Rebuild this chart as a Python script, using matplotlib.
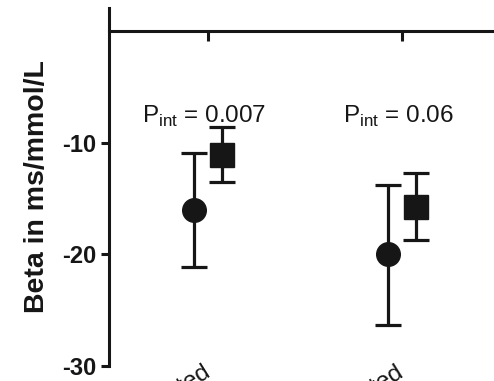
import matplotlib
matplotlib.use("Agg")
import matplotlib.pyplot as plt
import numpy as np

plt.rcParams['font.family'] = ['Liberation Sans', 'DejaVu Sans']
plt.rcParams['mathtext.fontset'] = 'custom'
plt.rcParams['mathtext.rm'] = 'Liberation Sans'

categories = ["Unadjusted", "Adjusted"]
circle_vals = [-16.0, -20.0]
circle_upper = [-10.9, -13.8]
circle_lower = [-21.1, -26.3]
square_vals = [-11.1, -15.7]
square_upper = [-8.6, -12.7]
square_lower = [-13.5, -18.7]
p_labels = [r"P$_{\mathregular{int}}$ = 0.007", r"P$_{\mathregular{int}}$ = 0.06"]
y_ticks = [-30, -20, -10]

col = '#161616'
fig = plt.figure(figsize=(4.94, 3.81), dpi=100)
ax = fig.add_axes([109/494, 15/381, 1 - 109/494, 358/381])

x = np.arange(1, len(categories) + 1)
off = 0.07

def draw(xs, vals, up, lo, marker):
    vals = np.array(vals); up = np.array(up); lo = np.array(lo)
    ax.errorbar(xs, vals, yerr=[vals - lo, up - vals], fmt=marker, color=col,
                ms=17, mec=col, mfc=col, ecolor=col, elinewidth=2.3,
                capsize=9.7, capthick=2.3, zorder=3, clip_on=False)

draw(x - off, circle_vals, circle_upper, circle_lower, 'o')
draw(x + off, square_vals, square_upper, square_lower, 's')

for xi, lab in zip(x, p_labels):
    ax.text(xi - 0.02, -8.2, lab, ha='center', va='baseline', fontsize=17.5, color=col)

ax.set_xlim(0.49, 2.474)
ax.set_ylim(-30, 2.1)
ax.set_yticks(y_ticks)
ax.set_yticklabels([str(t) for t in y_ticks], fontsize=17, fontweight='bold', color=col)
ax.set_ylabel("Beta in ms/mmol/L", fontsize=20.5, fontweight='bold', color=col, labelpad=9)

ax.spines['right'].set_visible(False)
ax.spines['bottom'].set_visible(False)
ax.spines['top'].set_position(('data', 0))
for s in ['left', 'top']:
    ax.spines[s].set_linewidth(2.2)
    ax.spines[s].set_color(col)

ax.set_xticks(x)
ax.set_xticklabels(categories, fontsize=17.5, rotation=32, ha='right',
                   rotation_mode='anchor', va='center', color=col)
ax.tick_params(axis='x', bottom=False, top=True, labelbottom=True, labeltop=False,
               direction='in', length=7.5, width=2.2, color=col, pad=3)
ax.tick_params(axis='y', direction='out', length=6, width=2.2, color=col, pad=3)

fig.savefig("out.png", dpi=100)
